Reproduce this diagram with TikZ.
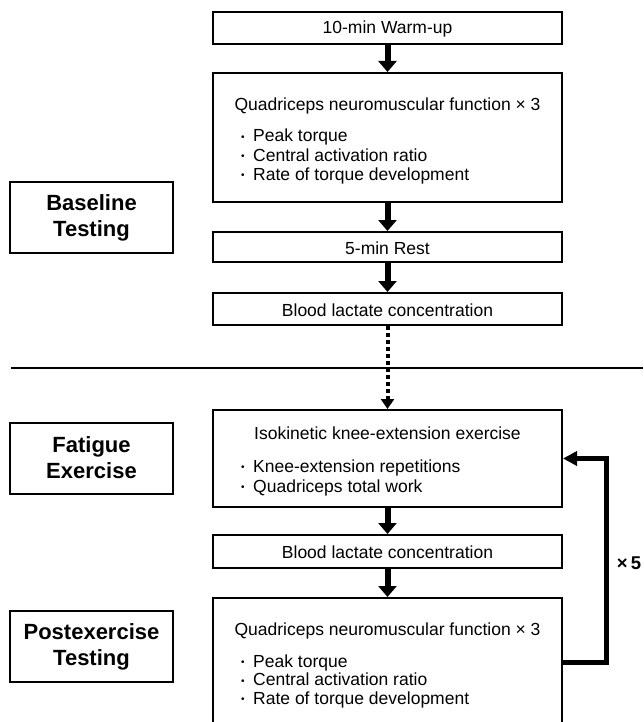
\documentclass[tikz,border=0pt]{standalone}
\usepackage{fontspec}
\setmainfont{Liberation Sans}
\usetikzlibrary{arrows.meta, positioning}
\tikzstyle{stepbox} = [draw, line width=2pt, minimum width=349pt, inner sep=0pt]
\tikzstyle{phase} = [draw, line width=2pt, minimum width=163pt, minimum height=71pt, align=center, inner sep=0pt, font=\fontsize{22}{26}\selectfont\bfseries]
\tikzstyle{label} = [inner sep=0pt, anchor=base, font=\fontsize{17.5}{19}\selectfont]
\tikzstyle{bullet} = [inner sep=0pt, anchor=base west, font=\fontsize{17.5}{19}\selectfont]
\tikzstyle{arrow} = [line width=6pt, -{Triangle[length=11pt,width=18pt]}]
\tikzstyle{dotarrow} = [line width=4pt, dash pattern=on 4pt off 3pt, -{Triangle[length=10pt,width=13pt]}]
\tikzstyle{loop} = [line width=5pt, -{Triangle[length=14pt,width=14pt]}]
\newcommand{\dotmark}{\makebox[12pt][l]{\raisebox{1.5pt}{\fontsize{10}{10}\selectfont\textbullet}}}

\begin{document}
\begin{tikzpicture}[x=1pt,y=-1pt]
\useasboundingbox (0,0) rectangle (643,722);

% phase labels
\node[phase] (baseline) at (91.5,217.5) {Baseline\\Testing};
\node[phase] (fatigue) at (91.5,458) {Fatigue\\Exercise};
\node[phase] (post) at (91.5,646.5) {Postexercise\\Testing};

% baseline testing
\node[stepbox, minimum height=32pt] (warmup) at (387.5,28) {};
\node[label] (warmupText) at (387.5,34) {10-min Warm-up};
\node[stepbox, minimum height=129pt] (quadA) at (387.5,137.5) {};
\node[label] (quadAText) at (387.5,111) {Quadriceps neuromuscular function × 3};
\foreach \txt [count=\i] in {Peak torque, Central activation ratio, Rate of torque development}
  \node[bullet] (quadA\i) at (241,{142+19*(\i-1)}) {\dotmark\txt};
\node[stepbox, minimum height=30pt] (rest) at (387.5,247) {};
\node[label] (restText) at (387.5,254) {5-min Rest};
\node[stepbox, minimum height=32pt] (lactA) at (387.5,309) {};
\node[label] (lactAText) at (387.5,316) {Blood lactate concentration};

\draw[line width=2pt] (11,368) -- (643,368);

% fatigue exercise
\node[stepbox, minimum height=97pt] (iso) at (387.5,458.5) {};
\node[label] (isoText) at (387.5,439) {Isokinetic knee-extension exercise};
\foreach \txt [count=\i] in {Knee-extension repetitions, Quadriceps total work}
  \node[bullet] (iso\i) at (241,{472+20*(\i-1)}) {\dotmark\txt};
\node[stepbox, minimum height=33pt] (lactB) at (387.5,551.5) {};
\node[label] (lactBText) at (387.5,558) {Blood lactate concentration};

% postexercise testing
\node[stepbox, minimum height=129pt] (quadB) at (387.5,662.5) {};
\node[label] (quadBText) at (387.5,635) {Quadriceps neuromuscular function × 3};
\foreach \txt [count=\i] in {Peak torque, Central activation ratio, Rate of torque development}
  \node[bullet] (quadB\i) at (241,{667+18.5*(\i-1)}) {\dotmark\txt};

% arrows
\draw[arrow] (warmup) -- (quadA);
\draw[arrow] (quadA) -- (rest);
\draw[arrow] (rest) -- (lactA);
\draw[dotarrow] (lactA) -- (iso);
\draw[arrow] (iso) -- (lactB);
\draw[arrow] (lactB) -- (quadB);
\draw[loop] (quadB.east) -- ++(43,0) |- (iso.east);
\node[font=\fontsize{18.5}{20}\selectfont\bfseries, inner sep=0pt] (reps) at (629,563) {×\,5};
\end{tikzpicture}
\end{document}
